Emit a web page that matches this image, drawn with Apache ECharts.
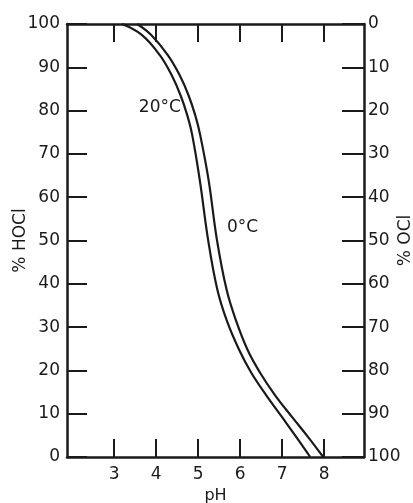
<!DOCTYPE html>
<html>
<head>
<meta charset="utf-8">
<script src="https://cdn.jsdelivr.net/npm/echarts@6/dist/echarts.min.js"></script>
<style>
  html, body { margin: 0; padding: 0; background: #fff; }
  #chart { width: 413px; height: 503px; }
</style>
</head>
<body>
<div id="chart"></div>
<script>
// pH 与 HOCl 百分比曲线
var phTicks = [3, 4, 5, 6, 7, 8];

// 两条曲线共用的 HOCl 百分比
var hoclPct = [100, 97.5, 92.8, 88.2, 83.6, 79.0, 74.4, 64.0, 50.1, 38.6, 31.6, 24.7, 19.4, 14.3, 9.2, 4.6, 0];

// 20°C 曲线
var ph20 = [3.19, 3.66, 4.09, 4.37, 4.58, 4.74, 4.86, 5.04, 5.24, 5.46, 5.68, 5.98, 6.27, 6.62, 7.00, 7.34, 7.67];

// 0°C 曲线
var ph0 = [3.55, 3.88, 4.28, 4.56, 4.77, 4.93, 5.05, 5.25, 5.45, 5.68, 5.90, 6.18, 6.48, 6.83, 7.24, 7.62, 7.98];

// 曲线标注
var labelNames = ['20°C', '0°C'];
var labelPh = [4.59, 5.69];
var labelPct = [80.6, 52.9];

var ink = '#1a1a1a';
var font = 'DejaVu Sans';

var chart = echarts.init(document.getElementById('chart'));

var xBase = {
    type: 'value',
    min: 1.88,
    max: 8.95,
    splitLine: { show: false },
    axisLine: { lineStyle: { color: ink, width: 2.5 } },
    axisTick: { inside: true, length: 18, customValues: phTicks, lineStyle: { color: ink, width: 2 } }
};

var option = {
    animation: false,
    grid: { left: 67, right: 49, top: 24, bottom: 46, outerBoundsMode: 'none', containLabel: false },
    xAxis: [
        Object.assign({}, xBase, {
            position: 'bottom',
            name: 'pH',
            nameLocation: 'middle',
            nameGap: 31,
            nameMoveOverlap: false,
            nameTextStyle: { color: ink, fontSize: 16, fontFamily: font },
            axisLabel: { customValues: phTicks, color: ink, fontSize: 17, fontFamily: font, margin: 9 }
        }),
        Object.assign({}, xBase, {
            position: 'top',
            axisLabel: { show: false }
        })
    ],
    yAxis: [
        {
            type: 'value',
            min: 0,
            max: 100,
            interval: 10,
            position: 'left',
            name: '% HOCl',
            nameLocation: 'middle',
            nameRotate: 90,
            nameGap: 38,
            nameMoveOverlap: false,
            nameTextStyle: { color: ink, fontSize: 17, fontFamily: font },
            splitLine: { show: false },
            axisLine: { show: true, lineStyle: { color: ink, width: 2.5 } },
            axisTick: { show: true, inside: true, length: 20, lineStyle: { color: ink, width: 2 } },
            axisLabel: { color: ink, fontSize: 17, fontFamily: font, margin: 7 }
        },
        {
            type: 'value',
            min: 0,
            max: 100,
            interval: 10,
            inverse: true,
            position: 'right',
            name: '% OCl',
            nameLocation: 'middle',
            nameRotate: 90,
            nameGap: 33,
            nameMoveOverlap: false,
            nameTextStyle: { color: ink, fontSize: 17, fontFamily: font },
            splitLine: { show: false },
            axisLine: { show: true, lineStyle: { color: ink, width: 2.5 } },
            axisTick: { show: true, inside: true, length: 22, lineStyle: { color: ink, width: 2 } },
            axisLabel: { color: ink, fontSize: 17, fontFamily: font, margin: 4 }
        }
    ],
    series: [
        {
            name: '20°C',
            type: 'line',
            smooth: 0.4,
            symbol: 'none',
            lineStyle: { color: ink, width: 2.2 },
            data: ph20.map((p, i) => [p, hoclPct[i]])
        },
        {
            name: '0°C',
            type: 'line',
            smooth: 0.4,
            symbol: 'none',
            lineStyle: { color: ink, width: 2.2 },
            data: ph0.map((p, i) => [p, hoclPct[i]])
        },
        {
            type: 'scatter',
            symbolSize: 0,
            silent: true,
            itemStyle: { opacity: 1 },
            data: labelNames.map((n, i) => ({
                name: n,
                value: [labelPh[i], labelPct[i]],
                label: { position: i === 0 ? 'left' : 'right' }
            })),
            label: {
                show: true,
                distance: 0,
                formatter: '{b}',
                color: ink,
                opacity: 1,
                fontSize: 17,
                fontFamily: font
            }
        }
    ]
};

chart.setOption(option);
</script>
</body>
</html>
